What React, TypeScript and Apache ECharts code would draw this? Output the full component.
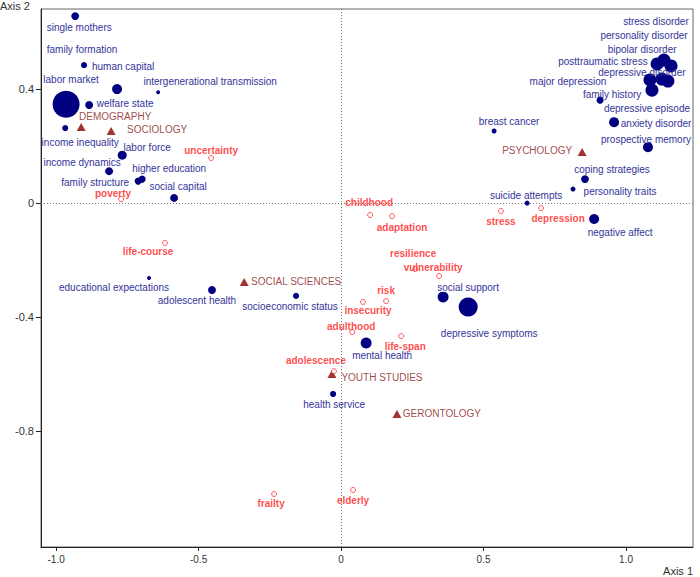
import React, { useEffect, useRef } from "react";
import * as echarts from "echarts";

// Author keywords (dark blue dots): coordinates on the two axes and relative frequency
const termNames = [
  "single mothers", "family formation", "human capital", "labor market",
  "intergenerational transmission", "welfare state", "income inequality", "labor force",
  "income dynamics", "higher education", "family structure", "social capital",
  "educational expectations", "adolescent health", "socioeconomic status", "health service",
  "mental health", "social support", "depressive symptoms", "breast cancer",
  "suicide attempts", "personality traits", "coping strategies", "negative affect",
  "prospective memory", "anxiety disorder", "family history", "stress disorder",
  "personality disorder", "bipolar disorder", "posttraumatic stress", "depressive disorder",
  "major depression", "depressive episode",
];
const termX = [
  -0.933, -0.902, -0.786, -0.965, -0.642, -0.884, -0.968, -0.768,
  -0.814, -0.698, -0.712, -0.586, -0.674, -0.453, -0.158, -0.028,
  0.088, 0.358, 0.446, 0.537, 0.653, 0.814, 0.856, 0.888,
  1.077, 0.958, 0.909, 1.133, 1.158, 1.109, 1.126, 1.147,
  1.084, 1.091,
];
const termY = [
  0.656, 0.484, 0.4, 0.347, 0.389, 0.344, 0.263, 0.168,
  0.112, 0.084, 0.077, 0.018, -0.263, -0.305, -0.326, -0.67,
  -0.491, -0.33, -0.365, 0.253, 0.0, 0.049, 0.084, -0.056,
  0.196, 0.284, 0.361, 0.502, 0.481, 0.488, 0.435, 0.428,
  0.432, 0.396,
];
const termFreq = [
  10, 6, 16, 117, 2.5, 10, 6, 13,
  10, 8, 8, 10, 2.5, 10, 6, 6,
  19, 19, 58, 4, 4, 4, 10, 16,
  16, 16, 8, 27, 27, 27, 27, 27,
  27, 27,
];

// Thematic keywords (red open circles)
const keywordNames = [
  "uncertainty", "poverty", "life-course", "childhood", "adaptation", "stress",
  "depression", "resilience", "vulnerability", "risk", "insecurity", "adulthood",
  "life-span", "adolescence", "frailty", "elderly",
];
const keywordX = [
  -0.456, -0.772, -0.618, 0.102, 0.179, 0.561,
  0.702, 0.26, 0.344, 0.158, 0.077, 0.039,
  0.211, -0.025, -0.235, 0.042,
];
const keywordY = [
  0.158, 0.014, -0.14, -0.042, -0.046, -0.028,
  -0.018, -0.232, -0.256, -0.344, -0.347, -0.453,
  -0.467, -0.59, -1.021, -1.007,
];

// Research fields (supplementary points, dark red triangles)
const fieldNames = ["DEMOGRAPHY", "SOCIOLOGY", "PSYCHOLOGY", "SOCIAL SCIENCES", "YOUTH STUDIES", "GERONTOLOGY"];
const fieldX = [-0.912, -0.807, 0.846, -0.34, -0.032, 0.196];
const fieldY = [0.267, 0.253, 0.179, -0.277, -0.6, -0.74];

// Axis ticks
const xTicks = [-1.0, -0.5, 0, 0.5, 1.0];
const yTicks = [-0.8, -0.4, 0, 0.4];

// Label placement: offset of each label's centre from its point, in px
const labelOffset: Record<string, [number, number]> = {
  "single mothers": [4, 11],
  "family formation": [-2, -16],
  "human capital": [6, -23],
  "labor market": [5, -25],
  "intergenerational transmission": [52, -11],
  "welfare state": [36, -2],
  "income inequality": [15, 14],
  "labor force": [25, -8],
  "income dynamics": [-27, -9],
  "higher education": [27, -11],
  "family structure": [-43, 1],
  "social capital": [4, -11],
  "educational expectations": [-35, 9],
  "adolescent health": [-15, 11],
  "socioeconomic status": [-6, 11],
  "health service": [1, 11],
  "mental health": [16, 13],
  "social support": [25, -10],
  "depressive symptoms": [21, 26],
  "breast cancer": [15, -9],
  "suicide attempts": [-1, -8],
  "personality traits": [47, 2],
  "coping strategies": [27, -10],
  "negative affect": [26, 13],
  "prospective memory": [-2, -8],
  "anxiety disorder": [42, 1],
  "family history": [12, -6],
  "stress disorder": [-8, -39],
  "personality disorder": [-27, -30],
  "bipolar disorder": [-15, -14],
  "posttraumatic stress": [-59, -18],
  "depressive disorder": [-26, -9],
  "major depression": [-82, 2],
  "depressive episode": [-5, 18],
  uncertainty: [0, -8],
  poverty: [-8, -6],
  "life-course": [-17, 9],
  childhood: [-1, -13],
  adaptation: [10, 11],
  stress: [0, 10],
  depression: [17, 10],
  resilience: [-2, -16],
  vulnerability: [-6, -9],
  risk: [0, -11],
  insecurity: [5, 9],
  adulthood: [-1, -6],
  "life-span": [4, 10],
  adolescence: [-18, -11],
  frailty: [-3, 10],
  elderly: [0, 10],
  DEMOGRAPHY: [34, -10],
  SOCIOLOGY: [46, -1],
  PSYCHOLOGY: [-45, -2],
  "SOCIAL SCIENCES": [52, 0],
  "YOUTH STUDIES": [50, 3],
  GERONTOLOGY: [45, 0],
};

const FONT = "'Liberation Sans', Arial, sans-serif";

function points(names: string[], xs: number[], ys: number[]) {
  return names.map((name, i) => ({
    name,
    value: [xs[i], ys[i]],
    label: { offset: labelOffset[name] || [0, 0] },
  }));
}

export default function App() {
  const ref = useRef<HTMLDivElement>(null);

  useEffect(() => {
    if (!ref.current) return;
    const chart = echarts.init(ref.current, undefined, { renderer: "svg" });
    const fmt = (v: number) => (v === 0 ? "0" : v.toFixed(1));

    chart.setOption({
      animation: false,
      backgroundColor: "#ffffff",
      grid: {
        left: 41, right: 7, top: 9, bottom: 30,
        show: true, borderColor: "#666666", borderWidth: 1,
      },
      xAxis: {
        type: "value",
        min: -1.053,
        max: 1.235,
        splitLine: { show: false },
        axisLine: { onZero: false, lineStyle: { color: "#222222", width: 1 } },
        axisTick: { customValues: xTicks, length: 4, lineStyle: { color: "#222222" } },
        axisLabel: {
          customValues: xTicks, formatter: fmt, color: "#333333",
          fontFamily: FONT, fontSize: 10, margin: 7,
        },
      },
      yAxis: {
        type: "value",
        min: -1.207,
        max: 0.681,
        splitLine: { show: false },
        axisLine: { onZero: false, lineStyle: { color: "#222222", width: 1 } },
        axisTick: { customValues: yTicks, length: 5, lineStyle: { color: "#222222" } },
        axisLabel: {
          customValues: yTicks, formatter: fmt, color: "#333333",
          fontFamily: FONT, fontSize: 11, margin: 7,
        },
      },
      graphic: [
        {
          type: "text", left: 0, top: 0,
          style: { text: "Axis 2", fill: "#333333", font: `11px ${FONT}` },
        },
        {
          type: "text", right: 7, top: 565,
          style: { text: "Axis 1", fill: "#333333", font: `11px ${FONT}` },
        },
      ],
      series: [
        {
          name: "terms",
          type: "scatter",
          data: points(termNames, termX, termY),
          symbol: "circle",
          symbolSize: (_: unknown, p: { dataIndex: number }) => 2.5 * Math.sqrt(termFreq[p.dataIndex]),
          itemStyle: { color: "#000080", opacity: 1 },
          label: {
            show: true, position: "inside", formatter: "{b}",
            color: "#34349a", fontFamily: FONT, fontSize: 10,
            align: "center", verticalAlign: "middle",
          },
          markLine: {
            silent: true,
            symbol: ["none", "none"],
            label: { show: false },
            lineStyle: { type: [1, 2], color: "#777777", width: 1 },
            data: [{ xAxis: 0 }, { yAxis: 0 }],
            z: 1,
          },
          z: 3,
        },
        {
          name: "fields",
          type: "scatter",
          data: points(fieldNames, fieldX, fieldY),
          symbol: "triangle",
          symbolSize: [9, 8],
          itemStyle: { color: "#8b0000" },
          label: {
            show: true, position: "inside", formatter: "{b}",
            color: "#861616", fontFamily: FONT, fontSize: 10,
            align: "center", verticalAlign: "middle",
          },
          z: 4,
        },
        {
          name: "keywords",
          type: "scatter",
          data: points(keywordNames, keywordX, keywordY),
          symbol: "circle",
          symbolSize: 5,
          itemStyle: { color: "#ffffff", borderColor: "#ff3030", borderWidth: 1 },
          label: {
            show: true, position: "inside", formatter: "{b}",
            color: "#ff1a1a", fontFamily: FONT, fontSize: 10, fontWeight: "bold",
            align: "center", verticalAlign: "middle",
          },
          z: 5,
        },
      ],
    });

    return () => chart.dispose();
  }, []);

  return (
    <div
      ref={ref}
      style={{ position: "fixed", left: 0, top: 0, width: 700, height: 577, background: "#fff" }}
    />
  );
}
